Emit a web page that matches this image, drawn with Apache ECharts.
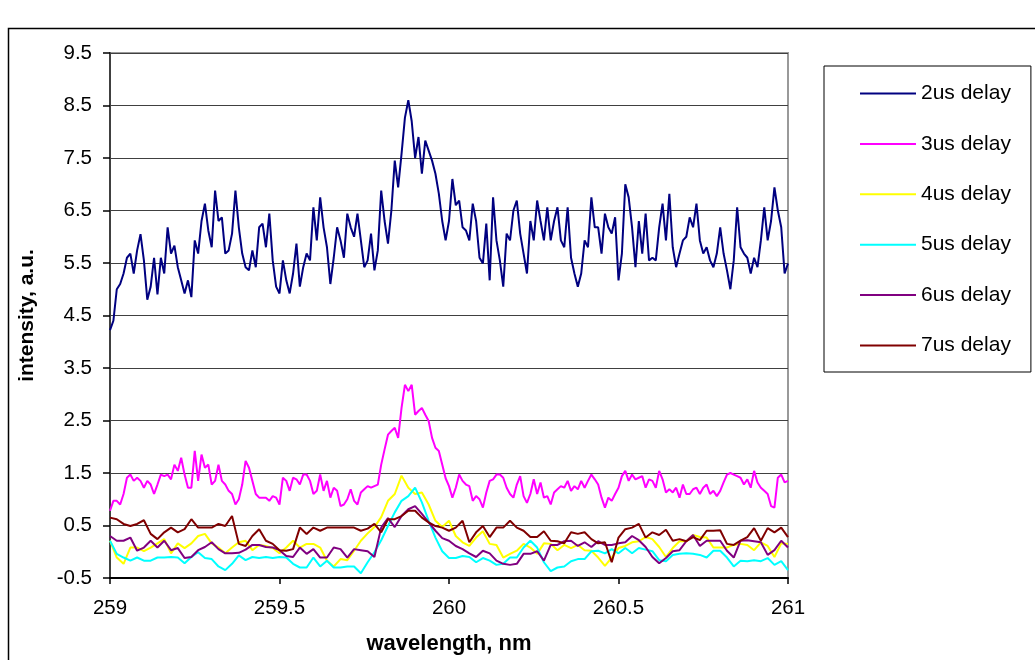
<!DOCTYPE html>
<html>
<head>
<meta charset="utf-8">
<script src="https://cdn.jsdelivr.net/npm/echarts@6/dist/echarts.min.js"></script>
<style>
html,body{margin:0;padding:0;background:#fff;}
#c{width:1035px;height:660px;}
</style>
</head>
<body>
<div id="c"></div>
<script>
// wavelength sampling grids (nm)
const start = 259;
const stepFine = 0.01;   // grid for 2us and 3us
const stepCoarse = 0.02; // grid for 4us..7us

const seriesNames = ['2us delay','3us delay','4us delay','5us delay','6us delay','7us delay'];
const xTicks = [259, 259.5, 260, 260.5, 261];
const yTicks = [-0.5, 0.5, 1.5, 2.5, 3.5, 4.5, 5.5, 6.5, 7.5, 8.5, 9.5];

const d2us = [
4.22,4.4,5.0,5.1,5.3,5.6,5.68,5.3,5.74,6.05,
5.55,4.8,5.05,5.6,4.9,5.6,5.3,6.18,5.68,5.83,
5.42,5.17,4.92,5.17,4.85,5.93,5.68,6.3,6.63,6.12,
5.8,6.88,6.3,6.37,5.68,5.74,6.06,6.88,6.18,5.68,
5.42,5.36,5.74,5.42,6.18,6.25,5.8,6.44,5.55,5.05,
4.92,5.55,5.17,4.92,5.3,5.87,5.05,5.42,5.68,5.55,
6.56,5.93,6.75,6.18,5.8,5.1,5.6,6.18,5.93,5.6,
6.44,6.18,6.0,6.44,5.93,5.42,5.55,6.06,5.36,5.74,
6.88,6.3,5.87,6.5,7.45,6.94,7.58,8.27,8.6,8.2,
7.5,7.9,7.2,7.83,7.64,7.45,7.2,6.82,6.3,5.93,
6.3,7.1,6.6,6.69,6.18,6.12,5.93,6.63,6.3,5.6,
5.49,6.25,5.17,6.75,5.93,5.55,5.05,6.06,5.93,6.5,
6.69,6.06,5.68,5.3,6.3,5.93,6.69,6.3,5.93,6.56,
5.93,6.3,6.56,5.93,5.8,6.56,5.6,5.3,5.05,5.3,
5.93,5.8,6.75,6.18,6.18,5.68,6.44,6.18,6.06,6.37,
5.17,5.68,7.0,6.75,6.18,5.42,6.3,5.68,6.44,5.55,
5.6,5.55,6.18,6.63,5.93,6.82,5.8,5.42,5.68,5.93,
6.0,6.37,6.18,6.63,5.93,5.68,5.8,5.55,5.42,5.68,
6.18,5.68,5.36,5.0,5.55,6.56,5.8,5.68,5.6,5.3,
5.6,5.42,5.93,6.56,5.93,6.3,6.94,6.5,6.18,5.3,5.49
];
const d3us = [
0.78,0.97,0.97,0.9,1.1,1.41,1.47,1.35,1.41,1.35,
1.22,1.35,1.28,1.1,1.28,1.47,1.44,1.47,1.38,1.66,
1.54,1.79,1.47,1.22,1.22,1.92,1.35,1.85,1.6,1.66,
1.28,1.35,1.66,1.35,1.28,1.16,1.1,0.9,1.0,1.28,
1.73,1.6,1.35,1.1,1.03,1.03,1.03,0.97,1.06,1.03,
0.9,1.41,1.35,1.16,1.41,1.38,1.28,1.47,1.47,1.35,
1.1,1.16,1.47,1.16,1.35,1.03,1.22,1.16,0.87,0.9,
1.0,1.19,0.97,0.9,1.13,1.19,1.25,1.22,1.25,1.28,
1.66,1.95,2.23,2.3,2.36,2.17,2.74,3.18,3.06,3.18,
2.61,2.68,2.74,2.61,2.49,2.17,1.98,1.92,1.66,1.4,
1.25,1.03,1.22,1.47,1.35,1.28,1.25,0.97,1.06,1.0,
0.84,1.13,1.35,1.38,1.47,1.47,1.41,1.22,1.1,1.03,
1.28,1.44,1.06,0.93,1.1,1.38,1.1,1.32,1.03,1.06,
0.9,1.13,1.19,1.25,1.22,1.35,1.16,1.25,1.19,1.35,
1.22,1.35,1.47,1.38,1.28,1.03,0.84,1.03,0.97,1.1,
1.22,1.44,1.54,1.35,1.47,1.38,1.41,1.44,1.22,1.38,
1.35,1.22,1.54,1.38,1.13,1.19,1.13,1.22,1.03,1.28,
1.1,1.1,1.19,1.22,1.1,1.22,1.28,1.1,1.16,1.06,
1.16,1.32,1.47,1.5,1.47,1.44,1.41,1.28,1.38,1.22,
1.54,1.32,1.22,1.16,1.1,0.87,0.84,1.41,1.47,1.32,1.35
];
const d4us = [
0.21,-0.11,-0.23,0.08,0.08,0.01,0.08,0.16,0.24,-0.03,
0.16,0.07,0.16,0.3,0.34,0.16,0.08,-0.03,0.08,0.18,
0.21,0.03,0.13,0.11,0.07,-0.03,0.08,0.21,0.08,0.15,
0.15,0.08,-0.17,-0.28,-0.14,-0.16,0.02,0.21,0.35,0.47,
0.66,0.97,1.1,1.45,1.22,1.1,1.13,0.9,0.59,0.47,
0.59,0.3,0.18,0.11,0.27,0.39,0.15,0.13,-0.11,-0.04,
0.02,0.15,0.08,-0.04,0.16,0.15,0.03,0.13,0.07,0.13,
0.03,0.02,-0.11,-0.27,-0.11,0.07,0.11,0.18,0.2,0.28,
0.24,0.09,-0.1,0.07,0.2,0.2,0.32,0.28,0.27,0.08,
0.08,0.08,0.13,0.15,0.13,0.03,0.18,0.11,-0.1,0.16,0.15
];
const d5us = [
0.21,-0.04,-0.11,-0.17,-0.11,-0.17,-0.17,-0.11,-0.11,-0.1,
-0.11,-0.22,-0.1,-0.01,-0.12,-0.14,-0.28,-0.35,-0.23,-0.07,
-0.16,-0.1,-0.12,-0.1,-0.12,-0.1,-0.11,-0.23,-0.3,-0.3,
-0.11,-0.28,-0.17,-0.3,-0.3,-0.28,-0.28,-0.41,-0.2,-0.01,
0.22,0.49,0.75,0.97,1.06,1.22,0.94,0.59,0.27,0.01,
-0.12,-0.12,-0.08,-0.1,-0.2,-0.12,-0.17,-0.25,-0.23,-0.11,
-0.11,0.08,0.21,0.08,-0.2,-0.37,-0.3,-0.28,-0.18,-0.14,
-0.14,0.01,0.02,-0.03,0.05,-0.03,0.07,-0.03,0.07,0.04,
0.01,-0.16,-0.18,-0.06,-0.04,-0.03,-0.04,-0.06,-0.11,0.02,
0.02,-0.11,-0.28,-0.17,-0.18,-0.16,-0.18,-0.12,-0.25,-0.18,-0.35
];
const d6us = [
0.3,0.21,0.21,0.27,0.02,0.08,0.21,0.08,0.21,0.03,
0.07,-0.12,-0.1,0.03,0.09,0.18,0.05,-0.03,-0.03,-0.02,
0.04,0.13,0.13,0.09,0.08,0.03,-0.08,-0.1,0.08,-0.04,
0.05,-0.11,-0.11,0.08,0.05,-0.11,0.05,0.03,0.01,-0.1,
0.46,0.64,0.47,0.68,0.81,0.87,0.72,0.56,0.4,0.26,
0.21,0.11,0.05,-0.03,-0.1,0.02,-0.03,-0.17,-0.23,-0.25,
-0.23,-0.04,-0.04,0.01,-0.17,0.13,0.13,0.2,0.21,0.11,
0.18,0.09,0.2,0.13,0.13,0.16,0.18,0.3,0.22,0.09,
-0.1,-0.22,-0.12,0.01,0.03,0.2,0.32,0.11,0.21,0.21,
0.21,0.02,-0.11,0.21,0.22,0.2,0.18,-0.06,0.03,0.21,0.08
];
const d7us = [
0.65,0.62,0.53,0.49,0.53,0.6,0.34,0.24,0.37,0.46,
0.37,0.43,0.62,0.46,0.46,0.46,0.53,0.49,0.68,0.15,
0.11,0.3,0.43,0.21,0.15,0.03,0.02,0.05,0.46,0.34,
0.46,0.4,0.46,0.46,0.46,0.46,0.46,0.4,0.44,0.53,
0.37,0.62,0.62,0.68,0.78,0.78,0.65,0.56,0.49,0.46,
0.4,0.46,0.59,0.18,0.37,0.49,0.28,0.46,0.46,0.59,
0.46,0.4,0.28,0.28,0.39,0.21,0.2,0.16,0.37,0.34,
0.37,0.24,0.16,0.18,-0.2,0.27,0.43,0.46,0.53,0.27,
0.37,0.32,0.42,0.21,0.24,0.2,0.28,0.22,0.4,0.4,
0.41,0.15,0.13,0.21,0.28,0.45,0.21,0.45,0.37,0.46,0.28
];

const colors = ['#000080','#FF00FF','#FFFF00','#00FFFF','#800080','#800000'];
const values = [d2us, d3us, d4us, d5us, d6us, d7us];
const steps = [stepFine, stepFine, stepCoarse, stepCoarse, stepCoarse, stepCoarse];

function pairs(arr, step){
  return arr.map((v,i)=>[+(start + i*step).toFixed(4), v]);
}

const FONT = "'Liberation Sans', Arial, sans-serif";
const chart = echarts.init(document.getElementById('c'), null, {renderer:'canvas'});
chart.setOption({
  animation:false,
  backgroundColor:'#fff',
  graphic:[{
    type:'rect', left:6, top:26, z:-10, silent:true,
    shape:{x:0,y:0,width:1100,height:700},
    style:{fill:'none', stroke:'#000', lineWidth:1.5}
  }],
  grid:{left:110, right:247, top:53, bottom:79, show:true, borderColor:'#999', borderWidth:2, backgroundColor:'transparent'},
  legend:{
    orient:'vertical', left:824, top:66,
    padding:[17,20,16,36], itemGap:29.4, itemWidth:56, itemHeight:2, icon:'rect',
    borderColor:'#000', borderWidth:1, backgroundColor:'#fff',
    textStyle:{fontSize:21, fontFamily:FONT, color:'#000'},
    data:seriesNames
  },
  xAxis:{
    type:'value', min:xTicks[0], max:xTicks[xTicks.length-1], interval:0.5,
    name:'wavelength, nm', nameLocation:'middle', nameGap:55,
    nameTextStyle:{fontSize:22, fontWeight:'bold', fontFamily:FONT, color:'#000'},
    axisLine:{onZero:false, lineStyle:{color:'#000', width:2}},
    axisTick:{show:true, length:6, lineStyle:{color:'#000', width:1.5}},
    axisLabel:{fontSize:20.5, fontFamily:FONT, color:'#000', margin:20},
    splitLine:{show:false}
  },
  yAxis:{
    type:'value', min:yTicks[0], max:yTicks[yTicks.length-1], interval:1,
    name:'intensity, a.u.', nameLocation:'middle', nameGap:72,
    nameTextStyle:{fontSize:21, fontWeight:'bold', fontFamily:FONT, color:'#000'},
    axisLine:{show:true, onZero:false, lineStyle:{color:'#404040', width:2}},
    axisTick:{show:true, length:7, lineStyle:{color:'#000', width:1.5}},
    axisLabel:{fontSize:20.5, fontFamily:FONT, color:'#000', margin:18},
    splitLine:{show:true, lineStyle:{color:'#404040', width:1.2}}
  },
  series: values.map((arr,k)=>({
    name:seriesNames[k], type:'line', data:pairs(arr, steps[k]),
    symbol:'none', showSymbol:false, smooth:false,
    lineStyle:{color:colors[k], width:2},
    itemStyle:{color:colors[k]},
    emphasis:{disabled:true}
  }))
});
</script>
</body>
</html>
